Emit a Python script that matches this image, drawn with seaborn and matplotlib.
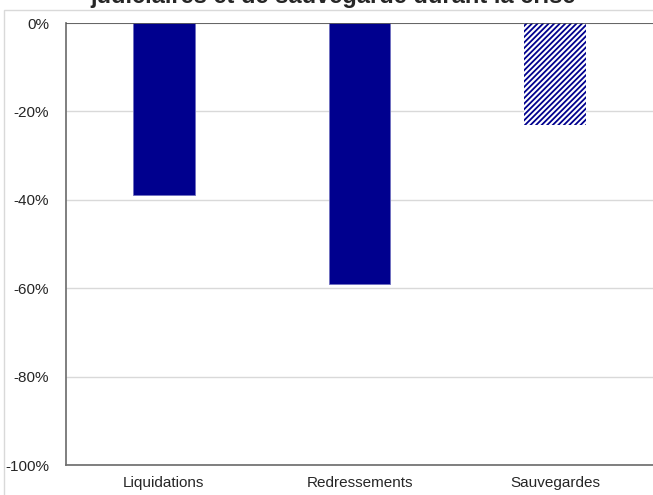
import matplotlib
matplotlib.use("Agg")
import matplotlib.pyplot as plt
import seaborn as sns
import pandas as pd
from matplotlib.patches import Rectangle

categories = ["Liquidations", "Redressements", "Sauvegardes"]
values = [-39, -59, -23]
yticks = [0, -20, -40, -60, -80, -100]
ytick_labels = ["0%", "-20%", "-40%", "-60%", "-80%", "-100%"]
title_text = "judiciaires et de sauvegarde durant la crise"

sns.set_theme(style="white")
plt.rcParams['font.family'] = ['Liberation Sans', 'DejaVu Sans']
plt.rcParams['hatch.linewidth'] = 1.3

navy = "#00008E"
fig = plt.figure(figsize=(6.53, 4.95), dpi=100)
ax = fig.add_axes([66/653, 30/495, 1 - 66/653, 442/495])

df = pd.DataFrame({"cat": categories, "val": values})
sns.barplot(data=df, x="cat", y="val", color=navy, saturation=1, width=0.315, ax=ax)

for p in ax.patches[:2]:
    p.set_edgecolor("#6F6FC0")
    p.set_linewidth(0.6)
p = ax.patches[2]
p.set_facecolor("white")
p.set_edgecolor(navy)
p.set_hatch("//////")
p.set_linewidth(0)

ax.set_ylim(-100, 0)
ax.set_xlim(-0.5, 2.5)
ax.set_yticks(yticks)
ax.set_yticklabels(ytick_labels, fontsize=11)
ax.tick_params(axis='x', labelsize=11, pad=8, length=0)
ax.tick_params(axis='y', pad=12, length=0)
ax.set_xlabel("")
ax.set_ylabel("")
ax.yaxis.grid(True, color="#D9D9D9", linewidth=1)
ax.set_axisbelow(True)
for s in ["top", "right"]:
    ax.spines[s].set_visible(False)
ax.spines["left"].set_color("#707070")
ax.spines["bottom"].set_color("#707070")
ax.axhline(0, color="#505050", linewidth=1.2, zorder=5)

fig.patches.append(Rectangle((4/653, -0.1), 1.0, 1 - 10/495 + 0.1, transform=fig.transFigure,
                             fill=False, edgecolor="#D9D9D9", linewidth=1, zorder=0))

fig.text(333/653, 1 - 3.5/495, title_text, ha='center', va='baseline',
         fontsize=17, fontweight='bold')

fig.savefig("out.png", dpi=100)
